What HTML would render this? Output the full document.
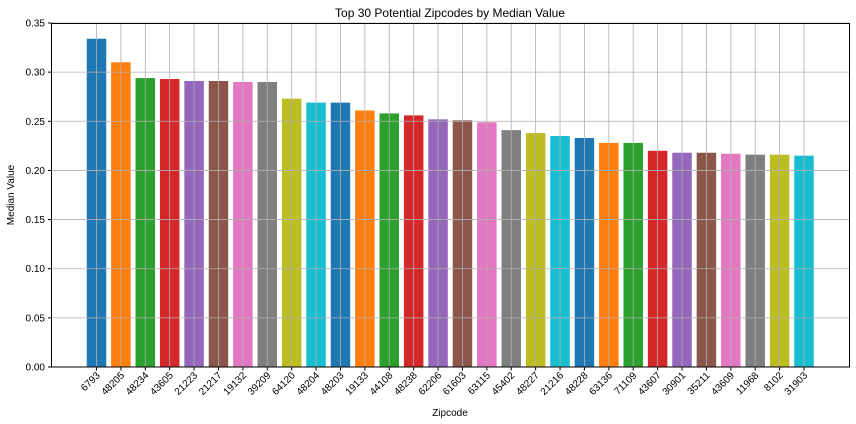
<!DOCTYPE html>
<html><head><meta charset="utf-8"><style>
html,body{margin:0;padding:0;background:#fff;width:856px;height:424px;overflow:hidden}
text{font-family:"Liberation Sans",sans-serif;fill:#000}
</style></head><body>
<svg id="chart" width="856" height="424">
<text x="450" y="17" font-size="12" text-anchor="middle">Top 30 Potential Zipcodes by Median Value</text>
<text x="450" y="416" font-size="10" text-anchor="middle">Zipcode</text>
<text transform="translate(14,195) rotate(-90)" font-size="10" text-anchor="middle">Median Value</text>
<g id="bars"></g><g id="grid"></g><g id="ticks"></g>
<rect x="51.5" y="23.5" width="798" height="343.5" fill="none" stroke="#000" stroke-width="1"/>
</svg>
<script>
const categories=["6793","48205","48234","43605","21223","21217","19132","39209","64120","48204","48203","19133","44108","48238","62206","61603","63115","45402","48227","21216","48228","63136","71109","43607","30901","35211","43609","11968","8102","31903"];
const values=[0.334,0.310,0.294,0.293,0.291,0.291,0.290,0.290,0.273,0.269,0.269,0.261,0.258,0.256,0.252,0.251,0.249,0.241,0.238,0.235,0.233,0.228,0.228,0.220,0.218,0.218,0.217,0.216,0.216,0.215];
const yTicks=[0,0.05,0.10,0.15,0.20,0.25,0.30,0.35];
const colors=["#1f77b4","#ff7f0e","#2ca02c","#d62728","#9467bd","#8c564b","#e377c2","#7f7f7f","#bcbd22","#17becf"];
const NS="http://www.w3.org/2000/svg";
const y=v=>367-v*(344/0.35);
const x=i=>96.5+i*(804-96.5)/29;
const bw=19.5;
const grid=document.getElementById('grid'),bars=document.getElementById('bars'),ticks=document.getElementById('ticks');
function mk(tag,attrs,parent){const e=document.createElementNS(NS,tag);for(const k in attrs)e.setAttribute(k,attrs[k]);parent.appendChild(e);return e;}
yTicks.forEach(t=>{
 const g=mk('line',{x1:51.5,x2:849.5,y1:y(t),y2:y(t),stroke:'#b0b0b0','stroke-width':0.8},grid);
 
 
 mk('line',{x1:48,x2:51.5,y1:y(t),y2:y(t),stroke:'#000'},ticks);
 const tx=mk('text',{x:45,y:y(t)+3.5,'font-size':10,'text-anchor':'end'},ticks);
 tx.textContent=t.toFixed(2);
 
 
});
categories.forEach((c,i)=>{
 const gl=mk('line',{x1:x(i),x2:x(i),y1:23.5,y2:367,stroke:'#b0b0b0','stroke-width':0.8},grid);
 
 
 const r=mk('rect',{x:x(i)-bw/2,y:y(values[i]),width:bw,height:367-y(values[i]),fill:colors[i%10]},bars);
 
 
 mk('line',{x1:x(i),x2:x(i),y1:367,y2:370.5,stroke:'#000'},ticks);
 const t=mk('text',{transform:`translate(${x(i)+4},${376}) rotate(-45)`,'font-size':10,'text-anchor':'end'},ticks);
 t.textContent=c;
 
 
});
</script>
</body></html>
